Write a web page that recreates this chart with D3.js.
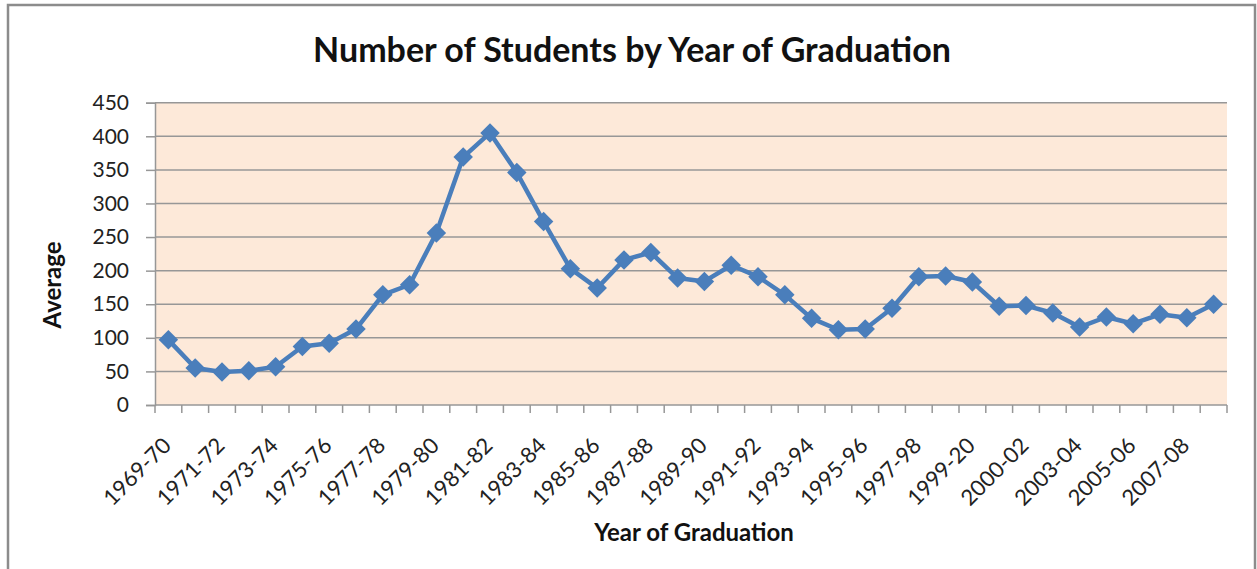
<!DOCTYPE html>
<html><head><meta charset="utf-8">
<script src="https://cdn.jsdelivr.net/npm/d3@7"></script>
<style>
html,body{margin:0;padding:0;background:#fff;}
svg{display:block;font-family:Lato,"Noto Sans",sans-serif;}
</style></head>
<body>
<svg id="chart" width="1257" height="569"></svg>
<script>
const categories = ["1969-70","1970-71","1971-72","1972-73","1973-74","1974-75","1975-76","1976-77","1977-78","1978-79",
  "1979-80","1980-81","1981-82","1982-83","1983-84","1984-85","1985-86","1986-87","1987-88","1988-89",
  "1989-90","1990-91","1991-92","1992-93","1993-94","1994-95","1995-96","1996-97","1997-98","1998-99",
  "1999-20","2000-01","2000-02","2002-03","2003-04","2004-05","2005-06","2006-07","2007-08","2008-09"];
const averages = [97,55,49,51,57,87,92,113,164,179,
  256,369,405,346,273,203,174,216,227,189,
  184,208,191,164,129,112,113,144,191,192,
  183,147,148,137,116,131,121,135,130,150];
const yTicks = [0,50,100,150,200,250,300,350,400,450];
const title = "Number of Students by Year of Graduation";
const xTitle = "Year of Graduation";
const yTitle = "Average";

const svg = d3.select("#chart");
const m = {left:155, right:1227, top:102.7, bottom:405};

// outer frame
svg.append("rect").attr("x",8).attr("y",5).attr("width",1247).attr("height",580)
  .attr("fill","#fff").attr("stroke","#8c8c8c").attr("stroke-width",2.5);

const x = d3.scaleBand().domain(categories).range([m.left,m.right]).paddingInner(0).paddingOuter(0);
const y = d3.scaleLinear().domain([0,450]).range([m.bottom,m.top]);
const cx = c => x(c) + x.bandwidth()/2;

svg.append("rect").attr("x",m.left).attr("y",m.top).attr("width",m.right-m.left).attr("height",m.bottom-m.top)
  .attr("fill","#fde9d9");

// gridlines
svg.append("g").selectAll("line").data(yTicks.filter(d=>d>0)).join("line")
  .attr("x1",m.left).attr("x2",m.right).attr("y1",d=>y(d)).attr("y2",d=>y(d))
  .attr("stroke","#979797").attr("stroke-width",1.5);

// y axis
const yAxis = svg.append("g").attr("transform",`translate(${m.left},0)`)
  .call(d3.axisLeft(y).tickValues(yTicks).tickSize(9).tickPadding(17));
yAxis.select(".domain").attr("stroke","#979797").attr("stroke-width",1.5);
yAxis.selectAll(".tick line").attr("stroke","#979797").attr("stroke-width",1.5);
yAxis.selectAll(".tick text").attr("font-size",21).attr("fill","#222").attr("font-family","Lato");

// x axis: ticks at category boundaries
const xg = svg.append("g");
xg.append("line").attr("x1",m.left).attr("x2",m.right).attr("y1",m.bottom).attr("y2",m.bottom)
  .attr("stroke","#979797").attr("stroke-width",1.5);
const bounds = categories.map(c=>x(c)).concat([m.right]);
xg.selectAll("line.tk").data(bounds).join("line").attr("class","tk")
  .attr("x1",d=>d).attr("x2",d=>d).attr("y1",m.bottom).attr("y2",m.bottom+8)
  .attr("stroke","#979797").attr("stroke-width",1.5);
xg.selectAll("text").data(categories.filter((c,i)=>i%2===0)).join("text")
  .attr("transform",d=>`translate(${cx(d)+4},${m.bottom+42}) rotate(-45)`)
  .attr("text-anchor","end").attr("font-size",22).attr("fill","#222").text(d=>d);

// line
const line = d3.line().x((d,i)=>cx(categories[i])).y(d=>y(d));
svg.append("path").datum(averages).attr("d",line).attr("fill","none")
  .attr("stroke","#4a7ebb").attr("stroke-width",4.5).attr("stroke-linejoin","round");
svg.append("g").selectAll("path").data(averages).join("path")
  .attr("d",d3.symbol(d3.symbolSquare, 190)())
  .attr("transform",(d,i)=>`translate(${cx(categories[i])},${y(d)}) rotate(45)`)
  .attr("fill","#4a7ebb");

// titles
svg.append("text").attr("x",632).attr("y",62).attr("text-anchor","middle")
  .attr("font-size",34).attr("font-weight","bold").attr("fill","#111").text(title);
svg.append("text").attr("x",694).attr("y",541).attr("text-anchor","middle")
  .attr("font-size",24).attr("font-weight","bold").attr("fill","#111").text(xTitle);
svg.append("text").attr("transform","translate(61,285) rotate(-90)").attr("text-anchor","middle")
  .attr("font-size",24).attr("font-weight","bold").attr("fill","#111").text(yTitle);
</script>
</body></html>
